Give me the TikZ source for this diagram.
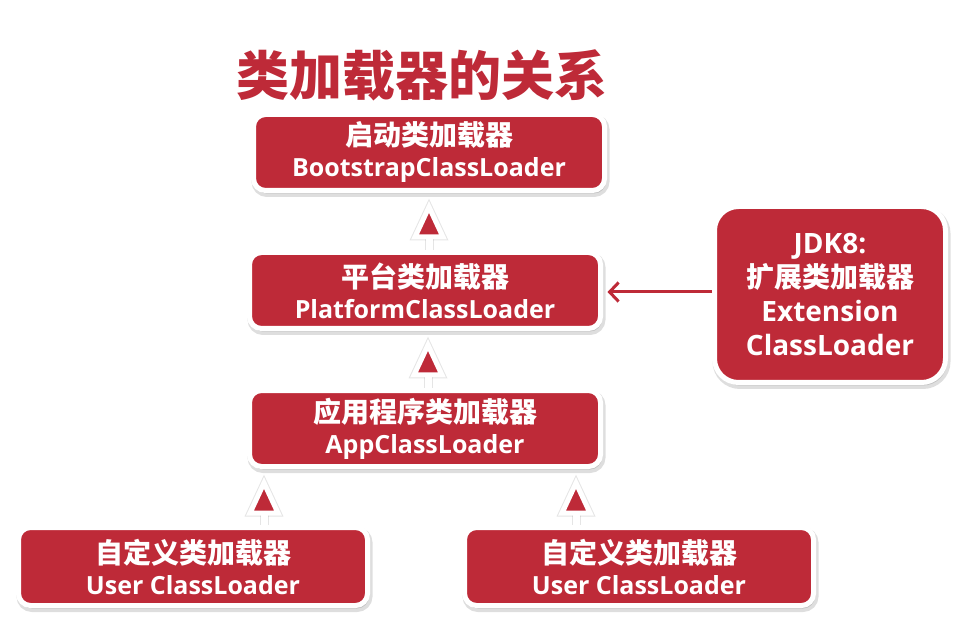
\documentclass[tikz,border=0pt]{standalone}
\usepackage{fontspec}
\setmainfont{Open Sans}
\newfontfamily\cjk{Noto Sans CJK SC}
\usetikzlibrary{shadows,arrows.meta,calc}
\definecolor{boxred}{RGB}{190,42,56}
\newcommand\zhl[1]{{\cjk\bfseries\fontsize{28}{31}\selectfont #1}}
\newcommand\enl[1]{{\bfseries\fontsize{25}{31}\selectfont #1}}
\begin{document}
\begin{tikzpicture}[x=1pt,y=-1pt,
  box/.style={draw=white, line width=5pt, fill=boxred, rounded corners=12pt,
    text=white, align=center, minimum width=351pt, minimum height=76pt, inner sep=0pt,
    font=\fontsize{25}{31}\selectfont,
    general shadow={fill=black, draw=black, line width=7pt, opacity=0.13,
      shadow xshift=1.5pt, shadow yshift=-3pt}},
  shaft/.style={draw=white, line width=7pt},
  headtri/.style={draw=white, line width=5pt, fill=boxred, line join=miter, miter limit=10},
  shadowline/.style={draw=black, opacity=0.10, line width=#1},
  link/.style={draw=boxred, line width=3pt, -{Straight Barb[length=9pt, width=19pt]}, shorten >=4.5pt}
]
\useasboundingbox (0,0) rectangle (977,617);
\fill[white] (0,0) rectangle (977,617);

\node[text=boxred, font=\cjk\bfseries\fontsize{53}{60}\selectfont, inner sep=0pt] (title) at (422,75) {类加载器的关系};

\node[box] (b1) at (429,152.5) {\zhl{启动类加载器}\\\enl{BootstrapClassLoader}};
\node[box] (b2) at (425,290.5) {\zhl{平台类加载器}\\\enl{PlatformClassLoader}};
\node[box] (b3) at (425,428.5) {\zhl{应用程序类加载器}\\\enl{AppClassLoader}};
\node[box, minimum width=349pt, minimum height=78pt] (u1) at (193,566.5) {\zhl{自定义类加载器}\\\enl{User ClassLoader}};
\node[box, minimum width=349pt, minimum height=78pt] (u2) at (639,566.5) {\zhl{自定义类加载器}\\\enl{User ClassLoader}};
\node[box, minimum width=231pt, minimum height=176pt, rounded corners=24pt,
  font=\bfseries\fontsize{28}{34}\selectfont] (jdk) at (830,294.5)
  {JDK8:\\{\cjk\bfseries\fontsize{28}{34}\selectfont 扩展类加载器}\\Extension\\ClassLoader};

% x positions of the upward arrows
\coordinate (x1) at (429,0);
\coordinate (x2) at (428,0);
\coordinate (x3) at (264,0);
\coordinate (x4) at (576,0);

\newcommand\uparr[3]{%
  \begin{scope}[shift={(1.5pt,-3pt)}]
    \draw[shadowline=9pt] (#1.north -| #3) -- ($(#2.south -| #3)+(0,40)$);
    \filldraw[draw=black, fill=black, opacity=0.10, line width=7pt, line join=miter]
      ($(#2.south -| #3)+(0,14)$) -- ($(#2.south -| #3)+(-14,44)$) -- ($(#2.south -| #3)+(14,44)$) -- cycle;
  \end{scope}
  \draw[shaft] (#1.north -| #3) -- ($(#2.south -| #3)+(0,40)$);
  \filldraw[headtri] ($(#2.south -| #3)+(0,14)$) -- ($(#2.south -| #3)+(-14,44)$) -- ($(#2.south -| #3)+(14,44)$) -- cycle;
}
\uparr{b2}{b1}{x1}
\uparr{b3}{b2}{x2}
\uparr{u1}{b3}{x3}
\uparr{u2}{b3}{x4}

\draw[link] (jdk.west |- 0,292) -- (b2.east |- 0,292);
\end{tikzpicture}
\end{document}
